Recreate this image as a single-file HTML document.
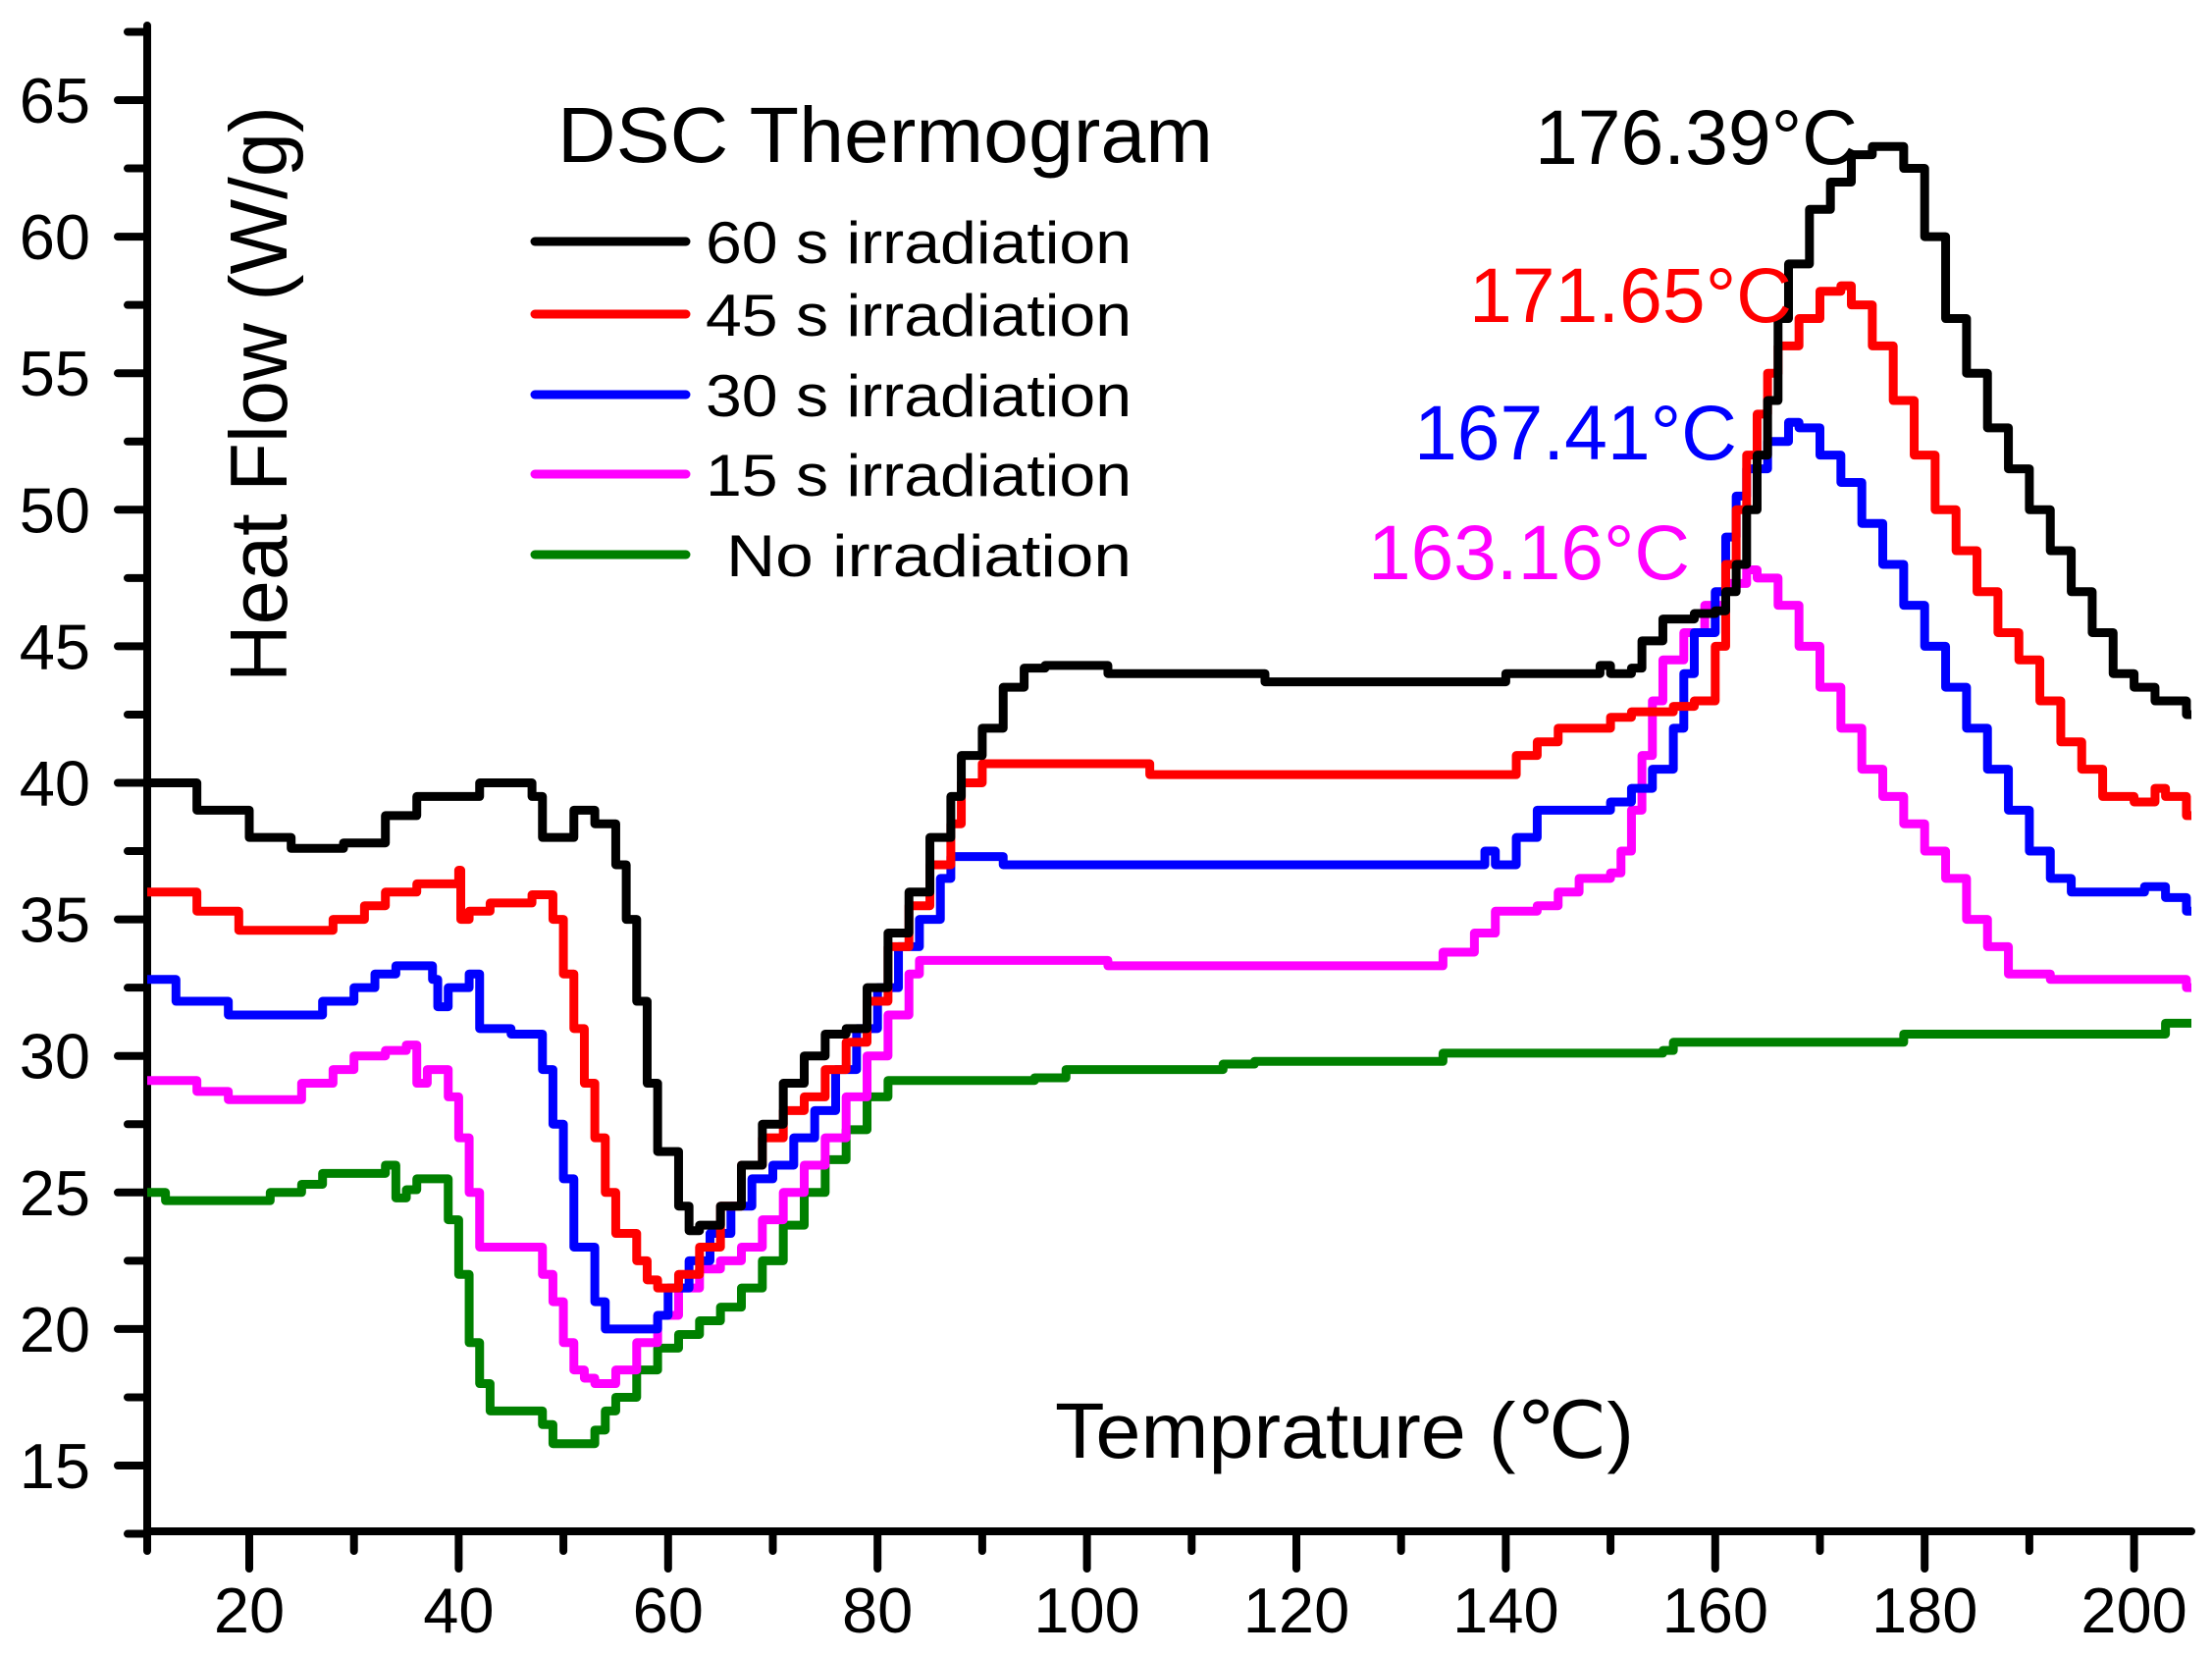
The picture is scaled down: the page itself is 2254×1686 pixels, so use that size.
<!DOCTYPE html>
<html><head><meta charset="utf-8"><style>
html,body{margin:0;padding:0;background:#fff;}
svg{display:block;font-family:"Liberation Sans",Arial,sans-serif;}
</style></head><body>
<svg id="chart" width="2254" height="1686" viewBox="0 0 2254 1686">
<g id="axes"></g>
<g id="series"></g>
<text x="568" y="165" font-size="80" textLength="668" lengthAdjust="spacingAndGlyphs">DSC Thermogram</text>
<text x="292" y="695" font-size="83" textLength="587" lengthAdjust="spacingAndGlyphs" transform="rotate(-90 292 695)">Heat Flow (W/g)</text>
<text x="1075" y="1485" font-size="80" textLength="590" lengthAdjust="spacingAndGlyphs">Temprature (℃)</text>
<text x="1564" y="167" font-size="79" fill="#000" textLength="329" lengthAdjust="spacingAndGlyphs">176.39°C</text>
<text x="1497" y="328" font-size="79" fill="#ff0000" textLength="329" lengthAdjust="spacingAndGlyphs">171.65°C</text>
<text x="1441" y="468" font-size="79" fill="#0000ff" textLength="329" lengthAdjust="spacingAndGlyphs">167.41°C</text>
<text x="1394" y="590" font-size="79" fill="#ff00ff" textLength="328" lengthAdjust="spacingAndGlyphs">163.16°C</text>
<g id="legend"></g>
</svg>
<script>
const xTicks=[20,40,60,80,100,120,140,160,180,200];
const yTicks=[15,20,25,30,35,40,45,50,55,60,65];
const seriesNames=["60 s irradiation","45 s irradiation","30 s irradiation","15 s irradiation","No irradiation"];
const seriesColors=["#000000","#ff0000","#0000ff","#ff00ff","#008000"];
const s60x=[10,15,20,24,29,33,36,40,42,47,48,50,51,53,55,56,57,58,59,61,62,63,65,67,69,71,73,75,77,79,81,83,85,87,88,90,92,94,96,100,102,117,135,140,146,149,150,152,153,155,158,160,161,162,163,164,165,166,167,169,171,173,175,177,178,180,182,184,186,188,190,192,194,196,198,200,202,205];
const s60y=[40,39,38,37.6,37.8,38.8,39.5,39.5,40,39.5,38,38,39,38.5,37,35,32,29,26.5,24.5,23.6,23.8,24.5,26,27.5,29,30,30.8,31,32.5,34.5,36,38,39.5,41,42,43.5,44.2,44.3,44.3,44,43.7,43.7,44,44,44.3,44,44.2,45.2,46,46.2,46.3,47,48,50,52,54,57,59,61,62,63,63.3,63.3,62.5,60,57,55,53,51.5,50,48.5,47,45.5,44,43.5,43,42.5];
const s45x=[10,15,19,24,28,31,33,36,39,40,40.2,41,43,47,48,49,50,51,52,53,54,55,57,58,59,61,63,65,67,69,71,73,75,77,79,81,83,85,87,88,90,92,101,106,130,140,141,143,145,149,150,152,156,158,160,161,162,163,164,165,166,168,170,172,173,175,177,179,181,183,185,187,189,191,193,195,197,200,202,203,205];
const s45y=[36,35.3,34.6,34.6,35,35.5,36,36.3,36.3,36.8,35,35.3,35.6,35.9,35.9,35,33,31,29,27,25,23.5,22.5,21.8,21.5,22,23,24.5,26,27,28,28.5,29.5,30.5,32,34,35.5,37,38.5,40,40.7,40.7,40.7,40.3,40.3,40.3,41,41.5,42,42,42.4,42.6,42.8,43,45,48,50,52,53.5,55,56,57,58,58.2,57.5,56,54,52,50,48.5,47,45.5,44.5,43,41.5,40.5,39.5,39.3,39.8,39.5,38.8];
const s30x=[10,13,18,24,27,30,32,34,37,37.5,38,39,41,42,45,47,48,49,50,51,53,54,57,59,60,62,64,66,68,70,72,74,76,78,80,82,84,86,87,91,92,100,110,137,138,139,141,143,149,150,152,154,156,157,158,160,161,162,163,165,167,168,170,172,174,176,178,180,182,184,186,188,190,192,194,200,201,203,205];
const s30y=[32.8,32,31.5,31.5,32,32.5,33,33.3,33.3,32.8,31.8,32.5,33,31,30.8,30.8,29.5,27.5,25.5,23,21,20,20,20.5,21.5,22.5,23.5,24.5,25.5,26,27,28,29.5,31,32.5,34,35,36.5,37.3,37.3,37,37,37,37,37.5,37,38,39,39,39.3,39.8,40.5,42,44,45.5,47,49,50.5,51.5,52.5,53.2,53,52,51,49.5,48,46.5,45,43.5,42,40.5,39,37.5,36.5,36,36,36.2,35.8,35.3];
const s15x=[10,15,18,22,25,28,30,33,35,36,37,38,39,40,41,42,47,48,49,50,51,52,53,54,55,57,59,61,63,65,67,69,71,73,75,77,79,81,83,84,100,102,133,134,137,139,143,145,147,150,151,152,153,154,155,157,159,161,163,164,166,168,170,172,174,176,178,180,182,184,186,188,192,205];
const s15y=[29.1,28.7,28.4,28.4,29,29.5,30,30.2,30.4,29,29.5,29.5,28.5,27,25,23,23,22,21,19.5,18.5,18.2,18,18,18.5,19.5,20.5,21.5,22.2,22.5,23,24,25,26,27,28.5,30,31.5,33,33.5,33.5,33.3,33.3,33.8,34.5,35.3,35.5,36,36.5,36.7,37.5,39,41,43,44.5,45.5,46.5,47.3,47.8,47.5,46.5,45,43.5,42,40.5,39.5,38.5,37.5,36.5,35,34,33,32.8,32.5];
const s0x=[10,12,20,22,25,27,31,33,34,35,36,38,39,40,41,42,43,47,48,49,52,53,54,55,57,59,61,63,65,67,69,71,73,75,77,79,81,85,95,98,113,116,133,134,155,156,177,178,202,203,205];
const s0y=[25,24.7,24.7,25,25.3,25.7,25.7,26,24.8,25.1,25.5,25.5,24,22,19.5,18,17,17,16.5,15.8,15.8,16.3,17,17.5,18.5,19.3,19.8,20.3,20.8,21.5,22.5,23.8,25,26.2,27.3,28.5,29.1,29.1,29.2,29.5,29.7,29.8,29.8,30.1,30.2,30.5,30.5,30.8,30.8,31.2,31.2];

const NS="http://www.w3.org/2000/svg";
const X0=150,X1=2233,Y0=1560,YT=26;
const pxPerX=10.67;
const xMin=20-(254-X0)/pxPerX;
const yRef=65,yRefPx=102,pxPerY=27.82;
function sx(v){return 254+(v-20)*pxPerX;}
function sy(v){return yRefPx+(yRef-v)*pxPerY;}
function mk(tag,attrs,parent){const e=document.createElementNS(NS,tag);for(const k in attrs)e.setAttribute(k,attrs[k]);parent.appendChild(e);return e;}
const axes=document.getElementById('axes');
const st={stroke:"#000","stroke-width":8,"stroke-linecap":"round",fill:"none"};
let p=mk('path',Object.assign({d:`M${X0},${YT}H${X0}V${Y0}H${X1}`},st),axes);


for(let v=12.5;v<=67.5;v+=2.5){
  const major=(v%5===0);
  const t=mk('line',Object.assign({x1:X0,x2:major?120:130,y1:sy(v),y2:sy(v)},st),axes);
  
  
}
yTicks.forEach(v=>{
  const t=mk('text',{x:92,y:sy(v)+23,"font-size":65,"text-anchor":"end"},axes);t.textContent=v;
  
  
});
for(let v=10;v<=200;v+=10){
  const major=(v%20===0);
  if(v<xMin)continue;
  const t=mk('line',Object.assign({x1:sx(v),x2:sx(v),y1:Y0,y2:major?Y0+38:Y0+20},st),axes);
  
  
}
{const t=mk('line',Object.assign({x1:X0,x2:X0,y1:Y0,y2:Y0+20},st),axes);

}
xTicks.forEach(v=>{
  const t=mk('text',{x:sx(v),y:1663,"font-size":65,"text-anchor":"middle"},axes);t.textContent=v;
  
  
});
const sg=document.getElementById('series');
const data=[[s60x,s60y],[s45x,s45y],[s30x,s30y],[s15x,s15y],[s0x,s0y]];
const ids=['series-60s','series-45s','series-30s','series-15s','series-none'];
for(let k=4;k>=0;k--){
  const [xs,ys]=data[k];
  let d=`M${sx(Math.max(xs[0],xMin))},${sy(ys[0])}`;
  for(let i=1;i<xs.length;i++){d+=`H${Math.min(sx(xs[i]),X1)}V${sy(ys[i])}`;}
  d+=`H${X1}`;
  const e=mk('path',{d:d,stroke:seriesColors[k],"stroke-width":9,fill:"none","stroke-linejoin":"round"},sg);
  
  
}
const lg=document.getElementById('legend');
const rows=[246,320,402,483,565];
seriesNames.forEach((n,i)=>{
  const l=mk('line',{x1:545,x2:699,y1:rows[i],y2:rows[i],stroke:seriesColors[i],"stroke-width":9,"stroke-linecap":"round"},lg);
  
  
  const t=mk('text',{x:i===4?740:719,y:rows[i]+22,"font-size":60,textLength:i===4?413:434,lengthAdjust:"spacingAndGlyphs"},lg);
  t.textContent=n;
  
  
});
</script>
</body></html>
